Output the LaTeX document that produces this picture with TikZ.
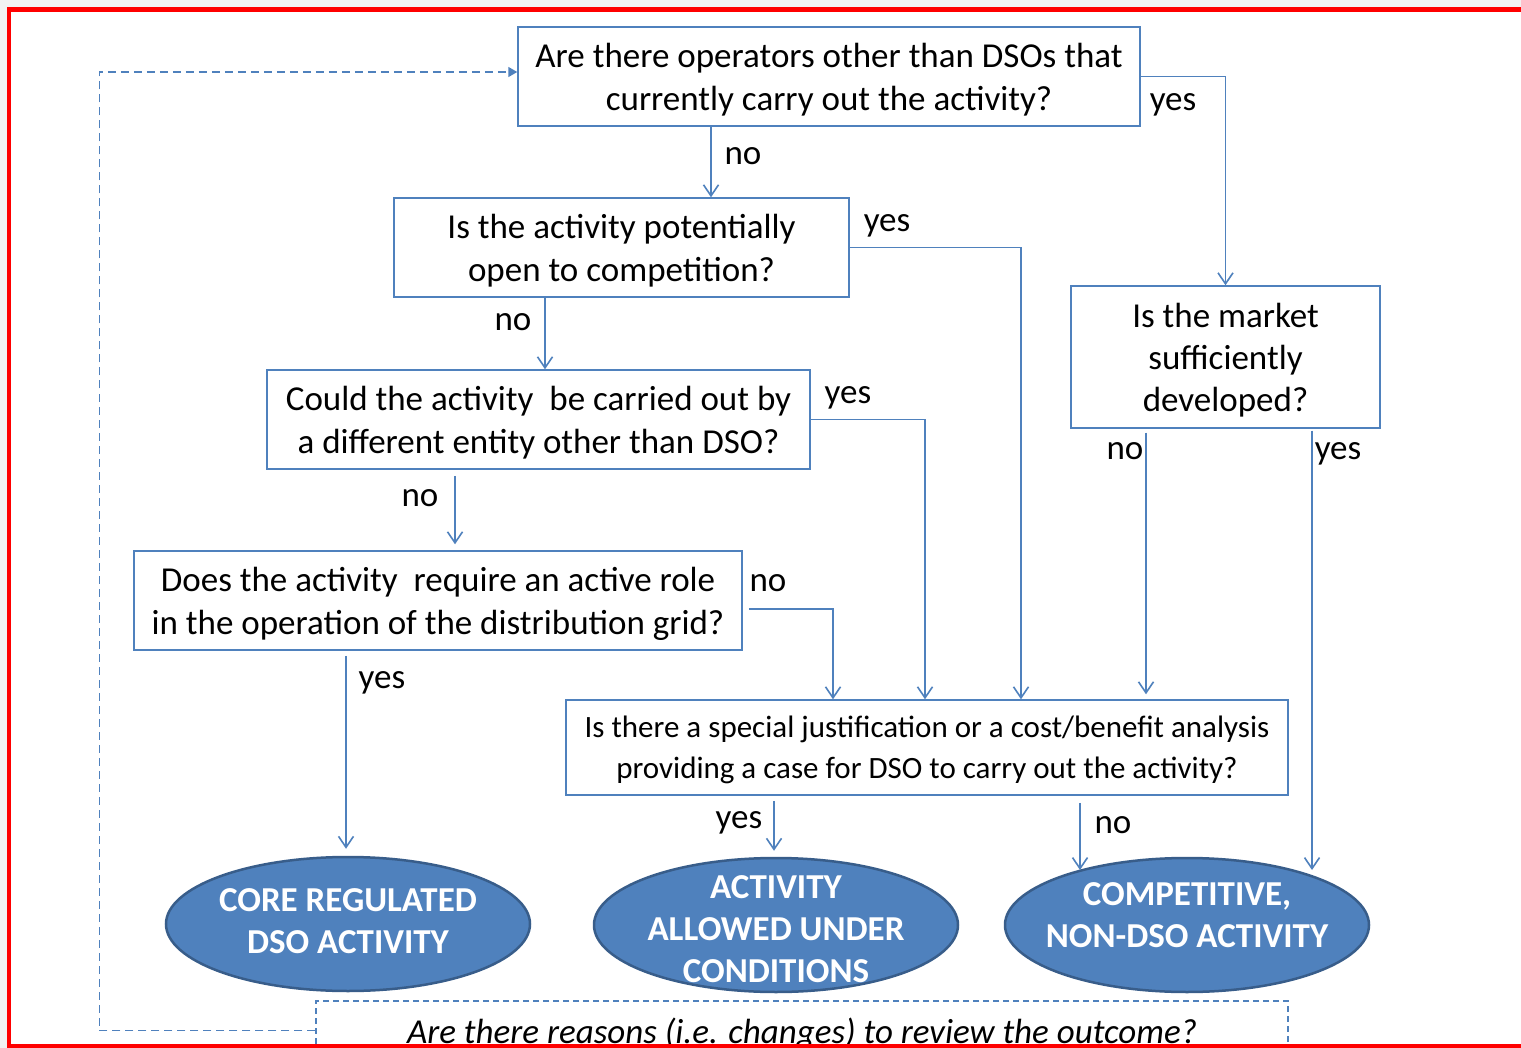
\documentclass[tikz,border=0pt]{standalone}
\usepackage{fontspec}
\setmainfont{Carlito}
\usetikzlibrary{arrows.meta,shapes.geometric}
\definecolor{officeblue}{HTML}{4F81BD}
\definecolor{officedark}{HTML}{385D8A}

\begin{document}
\begin{tikzpicture} [x=1pt, y=-1pt,
        question/.style={draw=officeblue, line width=1.5pt, align=center, inner sep=0pt, text depth=0pt, font=\fontsize{35}{43}\selectfont},
        outcome/.style={ellipse, draw=officedark, fill=officeblue, line width=2.5pt, inner sep=0pt, minimum width=364pt, minimum height=134pt},
        outcometext/.style={text=white, align=center, font=\bfseries\fontsize{35}{42}\selectfont},
        link/.style={draw=officeblue, line width=1.6pt, -{Straight Barb[length=11pt, width=15pt]}},
        feedback/.style={draw=officeblue, line width=1.5pt, dash pattern=on 8pt off 5pt},
        answer/.style={anchor=base, font=\fontsize{35}{42}\selectfont}]
        \useasboundingbox (0, 0) rectangle (1521, 1048);
        \clip (0, 0) rectangle (1521, 1048);
        \fill [black!5] (0, 0) rectangle (1521, 1048);
        \fill [white] (9, 9.5) rectangle (1545, 1046.5);

        \node [question, minimum width=622pt, minimum height=99pt] (operators) at (829, 76.5) {Are there operators other than DSOs that\\currently carry out the activity?};
        \node [question, minimum width=455pt, minimum height=99pt] (open) at (621.5, 247.5) {Is the activity potentially\\open to competition?};
        \node [question, minimum width=543pt, minimum height=99pt] (entity) at (538.5, 419.5) {Could the activity\ \ be carried out by\\a different entity other than DSO?};
        \node [question, minimum width=608pt, minimum height=99pt] (grid) at (438, 600.5) {Does the activity\ \ require an active role\\in the operation of the distribution grid?};
        \node [question, minimum width=309pt, minimum height=142pt, font=\fontsize{35}{42}\selectfont] (market) at (1225.5, 357) {Is the market\\sufficiently\\developed?};
        \node [question, minimum width=722pt, minimum height=95pt, font=\fontsize{31}{41}\selectfont] (special) at (927, 747.5) {Is there a special justification or a cost/benefit analysis\\providing a case for DSO to carry out the activity?};

        \node [outcome] (core) at (348, 924) {};
        \node [outcome] (allowed) at (776, 925) {};
        \node [outcome] (competitive) at (1187, 925) {};
        \node [outcometext] (coretext) at (348, 921) {CORE REGULATED\\DSO ACTIVITY};
        \node [outcometext] (allowedtext) at (776, 929.5) {ACTIVITY\\ALLOWED UNDER\\CONDITIONS};
        \node [outcometext] (competitivetext) at (1187, 915) {COMPETITIVE,\\NON-DSO ACTIVITY};

        \node [draw=officeblue, line width=1.2pt, dash pattern=on 6pt off 4pt, minimum width=972pt, minimum height=59pt, inner sep=0pt, text depth=0pt, font=\itshape\fontsize{35}{42}\selectfont] (review) at (802, 1030.5) {Are there reasons (i.e. changes) to review the outcome?};

        \coordinate (marketyes) at (1312, 870);
        \coordinate (specialno) at (1080, 870);

        \draw [link] (operators.east) -| (market.north);
        \draw [link] ([xshift=-118pt]operators.south) -- ([xshift=89.5pt]open.north);
        \draw [link] (open.east) -| ([xshift=94pt]special.north);
        \draw [link] ([xshift=-76.5pt]open.south) -- ([xshift=6.5pt]entity.north);
        \draw [link] (entity.east) -| ([xshift=-2pt]special.north);
        \draw [link, shorten <=6pt, shorten >=6pt] ([xshift=-83.5pt]entity.south) -- ([xshift=17pt]grid.north);
        \draw [link] ([shift={(6pt,-8.5pt)}]grid.east) -| ([xshift=-94pt]special.north);
        \draw [link, shorten <=5pt] ([xshift=-92pt]grid.south) -- ([xshift=-2pt, yshift=7pt]core.north);
        \draw [link, shorten <=4pt] ([xshift=-79.5pt]market.south) -- ([xshift=219pt, yshift=5pt]special.north);
        \draw [link, shorten <=2pt] ([xshift=86.5pt]market.south) -- (marketyes);
        \draw [link, shorten <=5pt] ([xshift=-153pt]special.south) -- ([xshift=-2pt, yshift=6pt]allowed.north);
        \draw [link, shorten <=7pt] ([xshift=153pt]special.south) -- (specialno);

        \draw [feedback, -{Triangle[length=9pt, width=10pt]}] (review.west) -- ++(-216, 0) |- ([yshift=4.5pt]operators.west);

        \foreach \word/\x/\y [count=\i] in {yes/1173/111, no/743/165, yes/887/232, no/513/331, yes/848/404, no/420/506, no/768/591, yes/382/688, no/1125/459, yes/1338/459, yes/739/828, no/1113/833}
        {
            \node [answer] (answer\i) at (\x, \y) {\word};
        }

        \draw [red, line width=4.5pt] (9, 9.5) rectangle (1545, 1046.5);
    \end{tikzpicture}
\end{document}
